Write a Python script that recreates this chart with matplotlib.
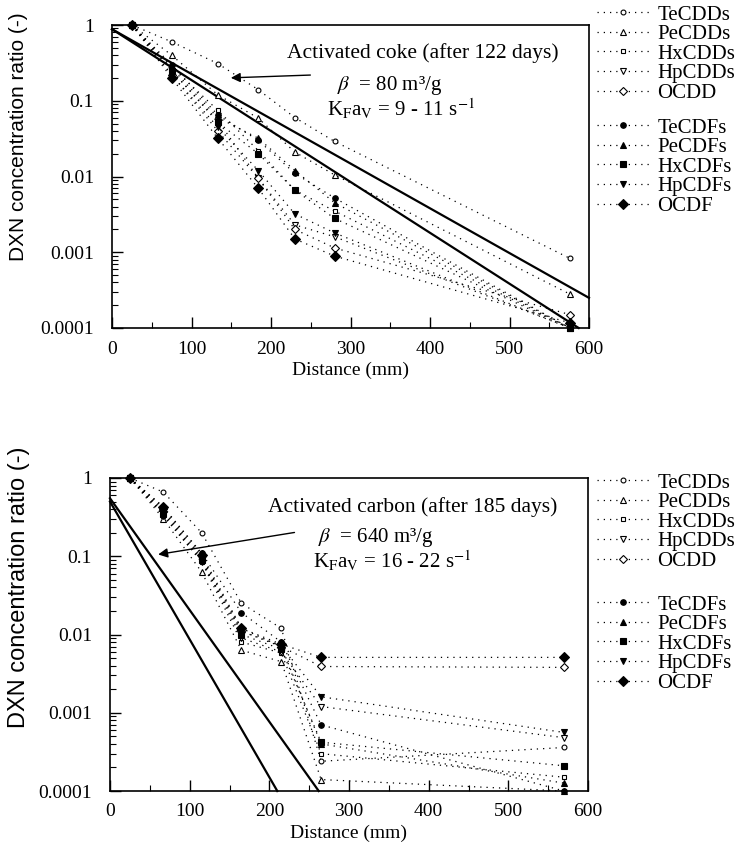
import matplotlib
matplotlib.use("Agg")
import matplotlib.pyplot as plt
from matplotlib.ticker import LogLocator, MultipleLocator, NullFormatter

plt.rcParams["font.family"] = ["Liberation Serif", "DejaVu Serif"]
plt.rcParams["mathtext.fontset"] = "stix"

# ---- data ----
species = ["TeCDDs", "PeCDDs", "HxCDDs", "HpCDDs", "OCDD",
           "TeCDFs", "PeCDFs", "HxCDFs", "HpCDFs", "OCDF"]

# activated coke, after 122 days
coke_x = [25, 75, 133, 184, 230, 280, 576]
coke_tecdds = [1, 0.60, 0.31, 0.14, 0.06, 0.029, 0.00083]
coke_pecdds = [1, 0.40, 0.12, 0.059, 0.021, 0.0105, 0.00028]
coke_hxcdds = [1, 0.28, 0.075, 0.022, 0.0066, 0.0035, 0.0001]
coke_hpcdds = [1, 0.25, 0.055, 0.0095, 0.0023, 0.0016, 0.0001]
coke_ocdd = [1, 0.22, 0.04, 0.0095, 0.002, 0.00114, 0.00015]
coke_tecdfs = [1, 0.30, 0.065, 0.030, 0.011, 0.0052, 0.0001]
coke_pecdfs = [1, 0.27, 0.06, 0.032, 0.012, 0.0045, 0.0001]
coke_hxcdfs = [1, 0.25, 0.052, 0.020, 0.0066, 0.0028, 0.0001]
coke_hpcdfs = [1, 0.22, 0.045, 0.012, 0.0032, 0.0018, 0.0001]
coke_ocdf = [1, 0.20, 0.032, 0.007, 0.0015, 0.00089, 0.000117]

# model lines for coke
coke_model1_x = [0, 600]
coke_model1_y = [0.88, 0.00025]
coke_model2_x = [0, 587]
coke_model2_y = [0.88, 0.0001]

# activated carbon, after 185 days
carbon_x = [25, 67, 115, 165, 215, 265, 570]
carbon_tecdds = [1, 0.66, 0.20, 0.025, 0.012, 0.00024, 0.00036]
carbon_pecdds = [1, 0.30, 0.063, 0.0063, 0.0045, 0.00014, 0.0001]
carbon_hxcdds = [1, 0.33, 0.085, 0.008, 0.0058, 0.0003, 0.00015]
carbon_hpcdds = [1, 0.36, 0.09, 0.009, 0.006, 0.0012, 0.00048]
carbon_ocdd = [1, 0.40, 0.10, 0.011, 0.007, 0.0039, 0.0038]
carbon_tecdfs = [1, 0.42, 0.11, 0.019, 0.008, 0.0007, 0.0001]
carbon_pecdfs = [1, 0.38, 0.095, 0.012, 0.007, 0.0004, 0.000126]
carbon_hxcdfs = [1, 0.35, 0.09, 0.010, 0.0065, 0.00042, 0.00021]
carbon_hpcdfs = [1, 0.33, 0.085, 0.011, 0.0072, 0.0016, 0.00056]
carbon_ocdf = [1, 0.43, 0.105, 0.012, 0.0075, 0.0051, 0.0051]

carbon_model1_x = [0, 210]
carbon_model1_y = [0.50, 0.0001]
carbon_model2_x = [0, 262]
carbon_model2_y = [0.55, 0.0001]

ytick_vals = [0.0001, 0.001, 0.01, 0.1, 1]
ytick_labels = ["0.0001", "0.001", "0.01", "0.1", "1"]
xtick_vals = [0, 100, 200, 300, 400, 500, 600]

# ---- styles ----
markers = ["o", "^", "s", "v", "D", "o", "^", "s", "v", "D"]
msizes = [3.5, 4, 3.5, 4, 4.5, 4, 4.5, 4, 4.5, 5.5]
filled = [False] * 5 + [True] * 5


def draw_panel(ax, x, series, models, label_coords, ylab_size):
    handles = []
    for name, y, m, ms, f in zip(species, series, markers, msizes, filled):
        h, = ax.plot(x, y, linestyle=(0, (1, 4)), linewidth=0.9, color="black",
                     marker=m, markersize=ms, markeredgewidth=0.8,
                     markerfacecolor="black" if f else "white",
                     markeredgecolor="black", label=name, clip_on=False, zorder=3)
        handles.append(h)
    for mx, my in models:
        ax.plot(mx, my, color="black", linewidth=1.6, clip_on=False, zorder=2)

    ax.set_yscale("log")
    ax.set_xlim(0, 600)
    ax.set_ylim(1e-4, 1)
    ax.set_yticks(ytick_vals)
    ax.set_yticklabels(ytick_labels)
    ax.set_xticks(xtick_vals)
    ax.xaxis.set_minor_locator(MultipleLocator(50))
    ax.yaxis.set_minor_locator(LogLocator(base=10, subs=range(2, 10)))
    ax.yaxis.set_minor_formatter(NullFormatter())
    ax.tick_params(which="both", direction="in", top=False, right=False)
    ax.tick_params(which="major", length=8, width=1.0, labelsize=14)
    ax.tick_params(axis="y", which="major", pad=13)
    ax.tick_params(axis="x", which="major", pad=9)
    ax.tick_params(which="minor", length=4, width=0.8)
    for s in ax.spines.values():
        s.set_linewidth(1.2)

    ax.set_xlabel("Distance (mm)", fontsize=14, labelpad=3)
    ax.set_ylabel("DXN concentration ratio (-)", fontsize=ylab_size,
                  family=["Liberation Sans", "DejaVu Sans"], va="center")
    ax.yaxis.set_label_coords(*label_coords)
    return handles


fig = plt.figure(figsize=(7.4, 8.42), dpi=100)
W, H = 740, 842
ax1 = fig.add_axes([112 / W, 1 - 328 / H, 477 / W, 303 / H])
ax2 = fig.add_axes([110 / W, 1 - 791 / H, 478 / W, 313 / H])

coke_series = [coke_tecdds, coke_pecdds, coke_hxcdds, coke_hpcdds, coke_ocdd,
               coke_tecdfs, coke_pecdfs, coke_hxcdfs, coke_hpcdfs, coke_ocdf]
carbon_series = [carbon_tecdds, carbon_pecdds, carbon_hxcdds, carbon_hpcdds, carbon_ocdd,
                 carbon_tecdfs, carbon_pecdfs, carbon_hxcdfs, carbon_hpcdfs, carbon_ocdf]

h1 = draw_panel(ax1, coke_x, coke_series,
                [(coke_model1_x, coke_model1_y), (coke_model2_x, coke_model2_y)],
                (-0.197, 0.63), 15)
h2 = draw_panel(ax2, carbon_x, carbon_series,
                [(carbon_model1_x, carbon_model1_y), (carbon_model2_x, carbon_model2_y)],
                (-0.19, 0.65), 17)

# annotations, top
ax1.text(220, 0.427, "Activated coke (after 122 days)", fontsize=15.5, va="center")
ax1.text(283, 0.16, r"$\beta$  = 80 m³/g", fontsize=15, va="center")
ax1.text(270, 0.078, r"K$_\mathrm{F}$a$_\mathrm{V}$ = 9 - 11 s$^{-1}$", fontsize=15, va="center")
ax1.annotate("", xy=(146, 0.2), xytext=(253, 0.219),
             arrowprops=dict(arrowstyle="-|>", color="black", lw=1.0, mutation_scale=14))

# annotations, bottom
ax2.text(198, 0.426, "Activated carbon (after 185 days)", fontsize=15.5, va="center")
ax2.text(261, 0.172, r"$\beta$  = 640 m³/g", fontsize=15, va="center")
ax2.text(255, 0.086, r"K$_\mathrm{F}$a$_\mathrm{V}$ = 16 - 22 s$^{-1}$", fontsize=15, va="center")
ax2.annotate("", xy=(57, 0.104), xytext=(235, 0.204),
             arrowprops=dict(arrowstyle="-|>", color="black", lw=1.0, mutation_scale=14))

# legends
leg_kw = dict(loc="upper left", frameon=False, fontsize=15, borderpad=0,
              borderaxespad=0, labelspacing=0.0, handlelength=2.5,
              handletextpad=0.4, bbox_transform=fig.transFigure)
for handles, tops in [(h1, (5, 118)), (h2, (473, 595))]:
    fig.legend(handles=handles[:5], bbox_to_anchor=(597 / W, 1 - tops[0] / H), **leg_kw)
    fig.legend(handles=handles[5:], bbox_to_anchor=(597 / W, 1 - tops[1] / H), **leg_kw)

fig.savefig("out.png", dpi=100)
